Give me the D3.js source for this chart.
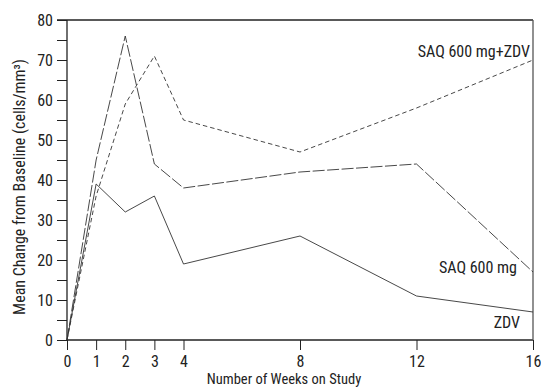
<!DOCTYPE html>
<html>
<head>
<meta charset="utf-8">
<script src="https://cdn.jsdelivr.net/npm/d3@7"></script>
<style>
	body { margin: 0; background: #fff; }
	svg text { font-family: "Liberation Sans Narrow", "Roboto Condensed", "Liberation Sans", sans-serif; fill: #222; }
</style>
</head>
<body>
<div id="chart"></div>
<script>
const weeks = [0, 1, 2, 3, 4, 8, 12, 16];
const zdv = [0, 39, 32, 36, 19, 26, 11, 7];
const saq = [0, 45, 76, 44, 38, 42, 44, 17];
const saqZdv = [0, 36, 59, 71, 55, 47, 58, 70];
const yTicks = d3.range(0, 81, 5);
const seriesLabels = ["ZDV", "SAQ 600 mg", "SAQ 600 mg+ZDV"];

const width = 541, height = 388;
const margin = { top: 20, right: 8, bottom: 48, left: 67 };

const x = d3.scaleLinear().domain([0, 16]).range([margin.left, width - margin.right]);
const y = d3.scaleLinear().domain([0, 80]).range([height - margin.bottom, margin.top]);

const svg = d3.select("#chart")
	.append("svg")
	.attr("width", width)
	.attr("height", height);

// y axis, minor ticks unlabeled
svg.append("g")
	.attr("transform", `translate(${margin.left},0)`)
	.call(d3.axisLeft(y).tickValues(yTicks).tickSize(10).tickPadding(4)
		.tickFormat((d) => (d % 10 === 0 ? d : "")))
	.call((g) => g.select(".domain").remove())
	.call((g) => g.selectAll(".tick line").attr("stroke", "#222"))
	.call((g) => g.selectAll("text").style("font-size", "16px"));

// x axis
svg.append("g")
	.attr("transform", `translate(0,${y(0)})`)
	.call(d3.axisBottom(x).tickValues(weeks).tickSize(10).tickPadding(6).tickSizeOuter(0))
	.call((g) => g.select(".domain").remove())
	.call((g) => g.selectAll(".tick line").attr("stroke", "#222"))
	.call((g) => g.selectAll("text").style("font-size", "16px"));

// frame
const frame = svg.append("g").attr("stroke", "#222").attr("stroke-width", 1.3).attr("fill", "none");
frame.append("line").attr("x1", x(0)).attr("x2", x(16)).attr("y1", y(0)).attr("y2", y(0));
frame.append("line").attr("x1", x(0)).attr("x2", x(0)).attr("y1", y(0)).attr("y2", y(80));
frame.append("line").attr("x1", x(0) - 10).attr("x2", x(16)).attr("y1", y(80)).attr("y2", y(80));
frame.append("line").attr("x1", x(16)).attr("x2", x(16)).attr("y1", y(0)).attr("y2", y(80)).attr("stroke", "#555");

const line = d3.line().x((d) => x(d[0])).y((d) => y(d[1]));

const series = [
	{ values: zdv, dash: null },
	{ values: saq, dash: "12,2.5" },
	{ values: saqZdv, dash: "4.5,3" },
];

series.forEach((s) => {
	svg.append("path")
		.datum(weeks.map((w, i) => [w, s.values[i]]))
		.attr("d", line)
		.attr("fill", "none")
		.attr("stroke", "#333")
		.attr("stroke-width", 0.9)
		.attr("stroke-dasharray", s.dash);
});

// series labels
const labelPos = [[520, 328], [517, 273], [530, 57]];
seriesLabels.forEach((t, i) => {
	svg.append("text")
		.attr("x", labelPos[i][0])
		.attr("y", labelPos[i][1])
		.attr("text-anchor", "end")
		.style("font-size", "16px")
		.text(t);
});

// axis titles
svg.append("text")
	.attr("x", 284)
	.attr("y", 384)
	.attr("text-anchor", "middle")
	.style("font-size", "14.5px")
	.text("Number of Weeks on Study");

svg.append("text")
	.attr("transform", "translate(25,187) rotate(-90)")
	.attr("text-anchor", "middle")
	.style("font-size", "16px")
	.text("Mean Change from Baseline (cells/mm³)");
</script>
</body>
</html>
